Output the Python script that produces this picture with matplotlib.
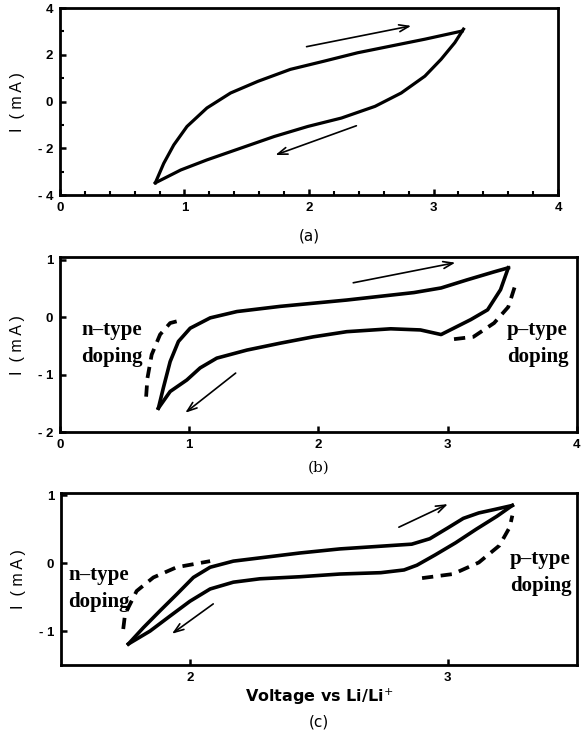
import matplotlib
matplotlib.use("Agg")
import matplotlib.pyplot as plt

# ---------------- data ----------------
# panel (a)
a_fwd_x = [0.766, 0.833, 0.914, 1.02, 1.18, 1.37, 1.59, 1.85, 2.12, 2.39, 2.66, 2.93, 3.23]
a_fwd_y = [-3.47, -2.64, -1.85, -1.06, -0.27, 0.37, 0.87, 1.38, 1.73, 2.09, 2.38, 2.67, 3.02]
a_rev_x = [3.24, 3.17, 3.06, 2.93, 2.74, 2.53, 2.26, 1.99, 1.72, 1.45, 1.18, 0.97, 0.766]
a_rev_y = [3.10, 2.52, 1.81, 1.09, 0.37, -0.20, -0.70, -1.06, -1.49, -1.99, -2.49, -2.92, -3.47]
a_arrows = [((1.98, 2.35), (2.82, 3.24)), ((2.38, -1.03), (1.73, -2.28))]

# panel (b)
b_fwd_x = [0.762, 0.80, 0.853, 0.917, 1.008, 1.163, 1.37, 1.705, 2.22, 2.74, 2.95, 3.15, 3.36, 3.47]
b_fwd_y = [-1.58, -1.23, -0.77, -0.42, -0.19, -0.01, 0.10, 0.19, 0.30, 0.43, 0.51, 0.65, 0.79, 0.86]
b_rev_x = [3.47, 3.41, 3.31, 3.18, 2.95, 2.79, 2.56, 2.22, 1.96, 1.705, 1.447, 1.214, 1.085, 0.982, 0.853, 0.762]
b_rev_y = [0.86, 0.48, 0.13, -0.04, -0.30, -0.22, -0.20, -0.25, -0.34, -0.45, -0.57, -0.71, -0.88, -1.09, -1.29, -1.58]
b_dash_n_x = [0.667, 0.677, 0.71, 0.775, 0.853, 0.956]
b_dash_n_y = [-1.38, -1.06, -0.65, -0.30, -0.10, -0.04]
b_dash_p_x = [3.05, 3.20, 3.36, 3.47, 3.53]
b_dash_p_y = [-0.38, -0.34, -0.10, 0.18, 0.60]
b_arrows = [((2.27, 0.60), (3.06, 0.95)), ((1.36, -0.97), (0.97, -1.66))]

# panel (c)
c_fwd_x = [1.761, 1.819, 1.884, 1.948, 2.013, 2.078, 2.168, 2.297, 2.426, 2.581, 2.86, 2.93, 3.00, 3.06, 3.12, 3.18, 3.25]
c_fwd_y = [-1.19, -0.95, -0.70, -0.46, -0.21, -0.06, 0.03, 0.09, 0.15, 0.21, 0.28, 0.36, 0.52, 0.66, 0.74, 0.79, 0.85]
c_rev_x = [3.25, 3.19, 3.11, 3.03, 2.95, 2.88, 2.83, 2.74, 2.581, 2.426, 2.271, 2.168, 2.078, 2.00, 1.922, 1.845, 1.761]
c_rev_y = [0.85, 0.69, 0.50, 0.30, 0.12, -0.03, -0.10, -0.14, -0.16, -0.20, -0.23, -0.28, -0.38, -0.56, -0.78, -1.00, -1.19]
c_dash_n_x = [1.741, 1.748, 1.793, 1.858, 1.948, 2.078]
c_dash_n_y = [-0.97, -0.75, -0.41, -0.21, -0.06, 0.03]
c_dash_p_x = [2.90, 3.02, 3.12, 3.20, 3.24, 3.25]
c_dash_p_y = [-0.22, -0.16, 0.01, 0.26, 0.53, 0.70]
c_arrows = [((2.81, 0.53), (3.00, 0.87)), ((2.09, -0.60), (1.93, -1.04))]

a_xticks = [0, 1, 2, 3, 4]
a_yticks = [-4, -2, 0, 2, 4]
b_xticks = [0, 1, 2, 3, 4]
b_yticks = [-2, -1, 0, 1]
c_xticks = [2, 3]
c_yticks = [-1, 0, 1]

panel_labels = ["(a)", "(b)", "(c)"]
ylabel = "I  ( m A )"
xlabel_c = "Voltage vs Li/Li$^{+}$"
n_label = "n\u2013type\ndoping"
p_label = "p\u2013type\ndoping"

# ---------------- figure ----------------
fig = plt.figure(figsize=(5.82, 7.34), dpi=100)
axa = fig.add_axes([0.103, 0.734, 0.856, 0.255])
axb = fig.add_axes([0.103, 0.411, 0.888, 0.239])
axc = fig.add_axes([0.105, 0.094, 0.886, 0.234])

tickfont = dict(family="Liberation Sans", weight="bold", size=9.5)
serif_bold = dict(family="Liberation Serif", weight="bold", size=15)
LW = 2.3


def fmt(v):
    return ("- " + str(-v)) if v < 0 else str(v)


def style(ax, xlim, ylim, xt, yt):
    ax.set_xlim(*xlim)
    ax.set_ylim(*ylim)
    for s in ax.spines.values():
        s.set_linewidth(2.0)
    ax.set_xticks(xt)
    ax.set_yticks(yt)
    ax.set_xticklabels([str(v) for v in xt], fontdict=tickfont)
    ax.set_yticklabels([fmt(v) for v in yt], fontdict=tickfont)
    ax.tick_params(direction="in", length=4, width=1.8, pad=5)
    ax.set_ylabel(ylabel, family="Liberation Sans", size=11.5, labelpad=9)


def arrows(ax, arrs):
    for (x0, y0), (x1, y1) in arrs:
        ax.annotate("", xy=(x1, y1), xytext=(x0, y0),
                    arrowprops=dict(arrowstyle="->,head_length=0.7,head_width=0.25",
                                    lw=1.2, color="black", shrinkA=0, shrinkB=0))


# (a)
axa.plot(a_fwd_x, a_fwd_y, color="black", lw=LW, solid_joinstyle="round")
axa.plot(a_rev_x, a_rev_y, color="black", lw=LW, solid_joinstyle="round")
arrows(axa, a_arrows)
style(axa, (0, 4), (-4, 4), a_xticks, a_yticks)
axa.set_yticks([-3, -1, 1, 3], minor=True)
axa.set_xticks([v / 5 for v in range(1, 20) if v % 5], minor=True)
axa.tick_params(which="minor", direction="in", length=3, width=1.5)
axa.text(0.5, -0.22, panel_labels[0], transform=axa.transAxes, ha="center",
         va="center", family="DejaVu Sans", size=11)

# (b)
axb.plot(b_fwd_x, b_fwd_y, color="black", lw=LW + 0.3, solid_joinstyle="round")
axb.plot(b_rev_x, b_rev_y, color="black", lw=LW + 0.3, solid_joinstyle="round")
axb.plot(b_dash_n_x, b_dash_n_y, color="black", lw=LW + 0.4, ls=(0, (3, 2)))
axb.plot(b_dash_p_x, b_dash_p_y, color="black", lw=LW + 0.4, ls=(0, (3, 2)))
arrows(axb, b_arrows)
style(axb, (0, 4), (-2, 1.05), b_xticks, b_yticks)
axb.text(0.165, -0.45, n_label, fontdict=serif_bold, ha="left", va="center",
         linespacing=1.45)
axb.text(3.46, -0.45, p_label, fontdict=serif_bold, ha="left", va="center",
         linespacing=1.45)
axb.text(0.5, -0.2, panel_labels[1], transform=axb.transAxes, ha="center",
         va="center", family="DejaVu Serif", size=11)

# (c)
axc.plot(c_fwd_x, c_fwd_y, color="black", lw=LW + 0.3, solid_joinstyle="round")
axc.plot(c_rev_x, c_rev_y, color="black", lw=LW + 0.3, solid_joinstyle="round")
axc.plot(c_dash_n_x, c_dash_n_y, color="black", lw=LW + 0.4, ls=(0, (3, 2)))
axc.plot(c_dash_p_x, c_dash_p_y, color="black", lw=LW + 0.4, ls=(0, (3, 2)))
arrows(axc, c_arrows)
style(axc, (1.5, 3.5), (-1.5, 1.03), c_xticks, c_yticks)
axc.set_xlabel(xlabel_c, family="DejaVu Sans", weight="bold", size=11.5,
               labelpad=2)
axc.text(1.527, -0.37, n_label, fontdict=serif_bold, ha="left", va="center",
         linespacing=1.45)
axc.text(3.24, -0.14, p_label, fontdict=serif_bold, ha="left", va="center",
         linespacing=1.45, clip_on=False)
axc.text(0.5, -0.33, panel_labels[2], transform=axc.transAxes, ha="center",
         va="center", family="DejaVu Sans", size=11)

fig.savefig("out.png", dpi=100, facecolor="white")
